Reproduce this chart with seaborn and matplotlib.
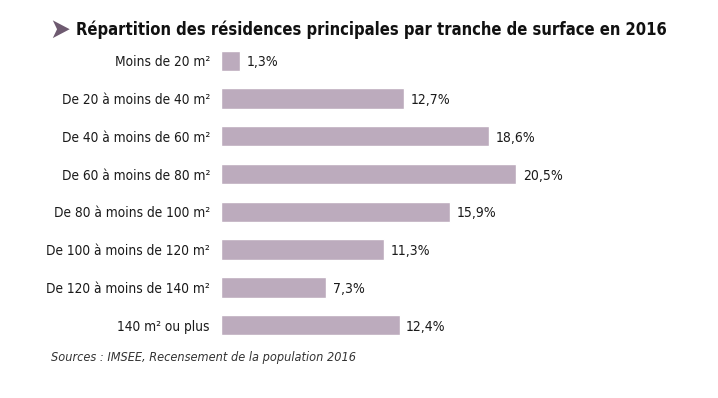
import pandas as pd
import seaborn as sns
import matplotlib.pyplot as plt

# Data
categories = [
    "Moins de 20 m²", "De 20 à moins de 40 m²", "De 40 à moins de 60 m²",
    "De 60 à moins de 80 m²", "De 80 à moins de 100 m²", "De 100 à moins de 120 m²",
    "De 120 à moins de 140 m²", "140 m² ou plus",
]
values = [1.3, 12.7, 18.6, 20.5, 15.9, 11.3, 7.3, 12.4]
value_labels = ["1,3%", "12,7%", "18,6%", "20,5%", "15,9%", "11,3%", "7,3%", "12,4%"]

title = "Répartition des résidences principales par tranche de surface en 2016"
source = "Sources : IMSEE, Recensement de la population 2016"

df = pd.DataFrame({"cat": categories, "val": values})

sns.set_style("white")
plt.rcParams['font.family'] = ['DejaVu Sans']
plt.rcParams['font.stretch'] = 'condensed'

fig = plt.figure(figsize=(7.18, 3.98), dpi=100)
ax = fig.add_axes([221 / 718, 0.1354, 432 / 718, 0.7595])

sns.barplot(data=df, x="val", y="cat", color="#bcabbd", saturation=1,
            width=0.54, ax=ax)
ax.set_xlim(0, 30)
ax.set_ylim(7.5, -0.5)
ax.set_xlabel("")
ax.set_ylabel("")
ax.set_xticks([])
ax.tick_params(axis="y", length=0, pad=8, labelsize=9.8, labelcolor="#1a1a1a")
sns.despine(ax=ax, left=True, bottom=True)

# value labels at the end of the bars
for i, (v, lab) in enumerate(zip(values, value_labels)):
    ax.text(v + 0.45, i + 0.04, lab, va="center", ha="left", fontsize=10,
            color="#1a1a1a")

# title with arrow
fig.text(49 / 718, 1 - 30 / 398, "➤", fontsize=20,
         color="#6e5a70", va="center", ha="left")
fig.text(76 / 718, 1 - 30 / 398, title, fontsize=11.9, fontweight="bold",
         color="#111111", va="center", ha="left")

fig.text(51 / 718, 1 - 357 / 398, source, fontsize=9.1, style="italic",
         color="#333333", va="center", ha="left")

fig.savefig("out.png", dpi=100)
